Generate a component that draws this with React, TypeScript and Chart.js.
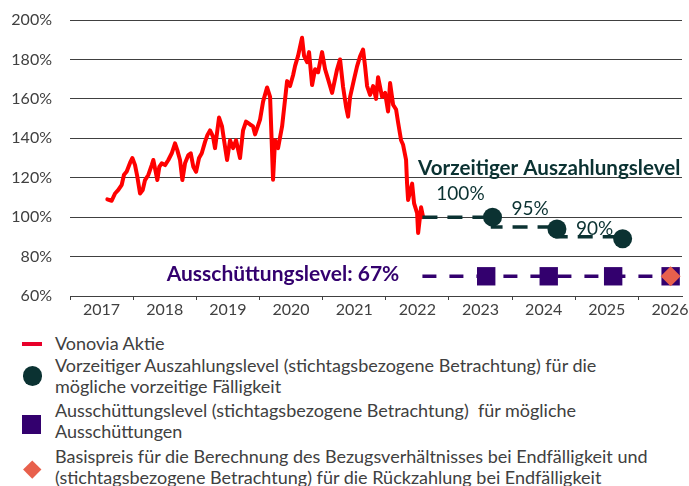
import React, { useEffect, useRef } from 'react';
import { Chart, registerables } from 'chart.js';

Chart.register(...registerables);

// ---- data ----
const priceYears = [
  2017.591, 2017.66, 2017.713, 2017.765, 2017.819, 2017.855, 2017.898, 2017.95, 2017.987,
  2018.029, 2018.066, 2018.109, 2018.151, 2018.188, 2018.24, 2018.294, 2018.319, 2018.346,
  2018.383, 2018.414, 2018.452, 2018.505, 2018.557, 2018.611, 2018.663, 2018.699, 2018.742,
  2018.779, 2018.821, 2018.874, 2018.912, 2018.953, 2018.996, 2019.043, 2019.086, 2019.138,
  2019.175, 2019.217, 2019.265, 2019.296, 2019.36, 2019.407, 2019.439, 2019.487, 2019.534,
  2019.582, 2019.629, 2019.692, 2019.74, 2019.787, 2019.851, 2019.898, 2019.93, 2020.009,
  2020.057, 2020.12, 2020.168, 2020.215, 2020.247, 2020.294, 2020.358, 2020.405, 2020.437,
  2020.484, 2020.532, 2020.564, 2020.611, 2020.674, 2020.706, 2020.754, 2020.785, 2020.833,
  2020.88, 2020.928, 2020.991, 2021.039, 2021.086, 2021.15, 2021.229, 2021.276, 2021.324,
  2021.371, 2021.403, 2021.435, 2021.498, 2021.545, 2021.593, 2021.64, 2021.672, 2021.704,
  2021.751, 2021.799, 2021.846, 2021.878, 2021.941, 2021.989, 2022.036, 2022.068, 2022.116,
  2022.163, 2022.195, 2022.242, 2022.274, 2022.321, 2022.337, 2022.353, 2022.417, 2022.448,
  2022.496, 2022.512, 2022.559, 2022.591,
];
const priceValues = [
  109.0, 108.3, 112.0, 113.8, 116.4, 121.5, 123.2, 127.5, 130.0,
  126.5, 120.5, 112.0, 113.8, 118.8, 121.4, 126.4, 129.0, 124.7,
  118.8, 125.5, 127.3, 126.4, 129.0, 132.4, 137.4, 134.0, 129.0,
  118.8, 127.3, 131.5, 132.4, 125.5, 123.0, 130.0, 132.4, 138.2,
  141.6, 144.0, 140.8, 135.0, 150.5, 146.0, 139.0, 129.0, 139.0,
  135.0, 139.0, 130.0, 144.0, 148.5, 147.0, 146.0, 142.0, 149.5,
  158.6, 165.8, 161.0, 119.0, 139.0, 135.0, 146.0, 159.7, 169.0,
  166.5, 172.0, 176.7, 181.8, 191.0, 181.8, 178.6, 183.7, 167.0,
  175.0, 173.5, 183.7, 175.0, 170.0, 163.0, 175.0, 180.0, 166.0,
  156.0, 151.0, 161.0, 170.0, 176.5, 181.6, 185.0, 176.5, 166.5,
  162.0, 166.5, 160.0, 171.0, 161.0, 163.0, 153.6, 168.0, 157.0,
  154.6, 148.0, 139.0, 136.7, 129.0, 117.0, 108.7, 117.0, 107.0,
  102.0, 92.0, 105.0, 100.0,
];

const autocallYears = [2023.69, 2024.71, 2025.75];
const autocallValues = [100, 94, 89];
const autocallStepYears = [2022.58, 2023.69, 2023.69, 2024.71, 2024.71, 2025.75];
const autocallStepValues = [100, 100, 95, 95, 90, 90];

const couponYears = [2023.59, 2024.58, 2025.6, 2026.51];
const couponValues = [70, 70, 70, 70];
const couponLineYears = [2022.58, 2026.66];
const couponLineValues = [70, 70];

const strikeYears = [2026.51];
const strikeValues = [70];

const yearLabels = ['2017', '2018', '2019', '2020', '2021', '2022', '2023', '2024', '2025', '2026'];
const yTickValues = [60, 80, 100, 120, 140, 160, 180, 200];

const annotationTexts = [
  'Vorzeitiger Auszahlungslevel',
  '100%',
  '95%',
  '90%',
  'Ausschüttungslevel: 67%',
];

const legendTexts = [
  ['Vonovia Aktie'],
  ['Vorzeitiger Auszahlungslevel (stichtagsbezogene Betrachtung) für die', 'mögliche vorzeitige Fälligkeit'],
  ['Ausschüttungslevel (stichtagsbezogene Betrachtung)  für mögliche', 'Ausschüttungen'],
  ['Basispreis für die Berechnung des Bezugsverhältnisses bei Endfälligkeit und', '(stichtagsbezogene Betrachtung) für die Rückzahlung bei Endfälligkeit'],
];

// ---- styles ----
const RED = '#ff0000';
const TEAL = '#0b3232';
const PURPLE = '#33006e';
const SALMON = '#e8604c';
const AXIS = '#404040';
const TICK = '#404040';
const FONT = 'Lato, "Noto Sans", sans-serif';

// anchor positions for annotation texts (data coordinates)
const annotationStyle = [
  { x: 2022.51, y: 121.4, font: `bold 20.6px ${FONT}`, color: TEAL },
  { x: 2022.8, y: 108.7, font: `19px ${FONT}`, color: TEAL },
  { x: 2023.99, y: 101.1, font: `19px ${FONT}`, color: TEAL },
  { x: 2025.01, y: 90.9, font: `19px ${FONT}`, color: TEAL },
  { x: 2018.53, y: 67.6, font: `bold 21px ${FONT}`, color: PURPLE },
];

const zip = (xs: number[], ys: number[]) => xs.map((x, i) => ({ x, y: ys[i] }));

const xTickValues: number[] = [];
yearLabels.forEach((l) => {
  const y = Number(l);
  xTickValues.push(y, y + 0.5);
});

const annotationPlugin = {
  id: 'annotations',
  afterDatasetsDraw(chart: any) {
    const { ctx, scales } = chart;
    ctx.save();
    ctx.textAlign = 'left';
    ctx.textBaseline = 'alphabetic';
    annotationTexts.forEach((t, i) => {
      const s = annotationStyle[i];
      ctx.font = s.font;
      ctx.fillStyle = s.color;
      ctx.fillText(t, scales.x.getPixelForValue(s.x), scales.y.getPixelForValue(s.y));
    });
    ctx.restore();
  },
};

export default function App() {
  const ref = useRef<HTMLCanvasElement | null>(null);

  useEffect(() => {
    if (!ref.current) return;
    Chart.defaults.font.family = FONT;
    const chart = new Chart(ref.current, {
      type: 'line',
      data: {
        datasets: [
          {
            label: 'Basispreis',
            data: zip(strikeYears, strikeValues),
            showLine: false,
            pointStyle: 'rectRot',
            pointRadius: 10,
            pointBackgroundColor: SALMON,
            pointBorderWidth: 0,
            order: 0,
          },
          {
            label: 'Ausschüttungslevel',
            data: zip(couponYears, couponValues),
            showLine: false,
            pointStyle: 'rect',
            pointRadius: 13,
            pointBackgroundColor: PURPLE,
            pointBorderWidth: 0,
            order: 1,
          },
          {
            label: 'Vorzeitiger Auszahlungslevel',
            data: zip(autocallYears, autocallValues),
            showLine: false,
            pointStyle: 'circle',
            pointRadius: 9.5,
            pointBackgroundColor: TEAL,
            pointBorderWidth: 0,
            order: 2,
          },
          {
            label: 'coupon line',
            data: zip(couponLineYears, couponLineValues),
            borderColor: PURPLE,
            borderWidth: 3.5,
            borderDash: [14, 13],
            pointRadius: 0,
            order: 3,
          },
          {
            label: 'autocall line',
            data: zip(autocallStepYears, autocallStepValues),
            borderColor: TEAL,
            borderWidth: 3.5,
            borderDash: [15, 10],
            pointRadius: 0,
            order: 4,
          },
          {
            label: 'Vonovia Aktie',
            data: zip(priceYears, priceValues),
            borderColor: RED,
            borderWidth: 4,
            borderJoinStyle: 'round',
            borderCapStyle: 'round',
            pointRadius: 0,
            tension: 0,
            order: 5,
          },
        ],
      },
      options: {
        animation: false,
        responsive: false,
        devicePixelRatio: 1,
        layout: { autoPadding: false, padding: { left: 0, right: 7, top: 20, bottom: 0 } },
        plugins: { legend: { display: false }, tooltip: { enabled: false } },
        scales: {
          x: {
            type: 'linear',
            min: 2017,
            max: 2026.69,
            afterBuildTicks: (scale: any) => {
              scale.ticks = xTickValues.map((v) => ({ value: v }));
            },
            afterFit: (scale: any) => {
              scale.height = 24;
            },
            grid: {
              drawOnChartArea: false,
              drawTicks: true,
              tickLength: 4,
              tickColor: (c: any) => (c.tick && Number.isInteger(c.tick.value) ? AXIS : 'rgba(0,0,0,0)'),
            },
            border: { display: true, color: AXIS, width: 1 },
            ticks: {
              autoSkip: false,
              maxRotation: 0,
              minRotation: 0,
              padding: 0,
              color: TICK,
              font: { size: 16 },
              callback: (v: any) => (Number.isInteger(v) ? '' : String(Math.floor(v))),
            },
          },
          y: {
            type: 'linear',
            min: 60,
            max: 200,
            afterBuildTicks: (scale: any) => {
              scale.ticks = yTickValues.map((v) => ({ value: v }));
            },
            afterFit: (scale: any) => {
              scale.width = 70;
            },
            grid: { color: AXIS, lineWidth: 1, drawTicks: true, tickLength: 18, tickColor: 'rgba(0,0,0,0)' },
            border: { display: false },
            ticks: {
              padding: 0,
              color: TICK,
              font: { size: 16 },
              callback: (v: any) => `${v}%`,
            },
          },
        },
      },
      plugins: [annotationPlugin],
    } as any);
    return () => chart.destroy();
  }, []);

  const markers: React.CSSProperties[] = [
    { left: 22, top: 342, width: 20, height: 4, background: '#e8002a' },
    { left: 22.5, top: 366, width: 19.5, height: 19.5, borderRadius: '50%', background: TEAL },
    { left: 22, top: 414.5, width: 18.5, height: 19, background: PURPLE },
    { left: 25.5, top: 462.5, width: 12.5, height: 12.5, background: SALMON, transform: 'rotate(45deg)' },
  ];
  const tops = [333, 355, 399.5, 445.5];

  return (
    <div
      style={{
        position: 'fixed',
        left: 0,
        top: 0,
        width: 689,
        height: 486,
        background: '#fff',
        overflow: 'hidden',
        fontFamily: FONT,
      }}
    >
      <canvas ref={ref} width={689} height={320} style={{ position: 'absolute', left: 0, top: 0, width: 689, height: 320 }} />
      {legendTexts.map((lines, i) => (
        <React.Fragment key={i}>
          <div style={{ position: 'absolute', ...markers[i] }} />
          <div
            style={{
              position: 'absolute',
              left: 55,
              top: tops[i],
              fontSize: 18,
              lineHeight: '21px',
              color: '#404040',
              whiteSpace: 'pre',
            }}
          >
            {lines.map((l, j) => (
              <div key={j}>{l}</div>
            ))}
          </div>
        </React.Fragment>
      ))}
    </div>
  );
}
